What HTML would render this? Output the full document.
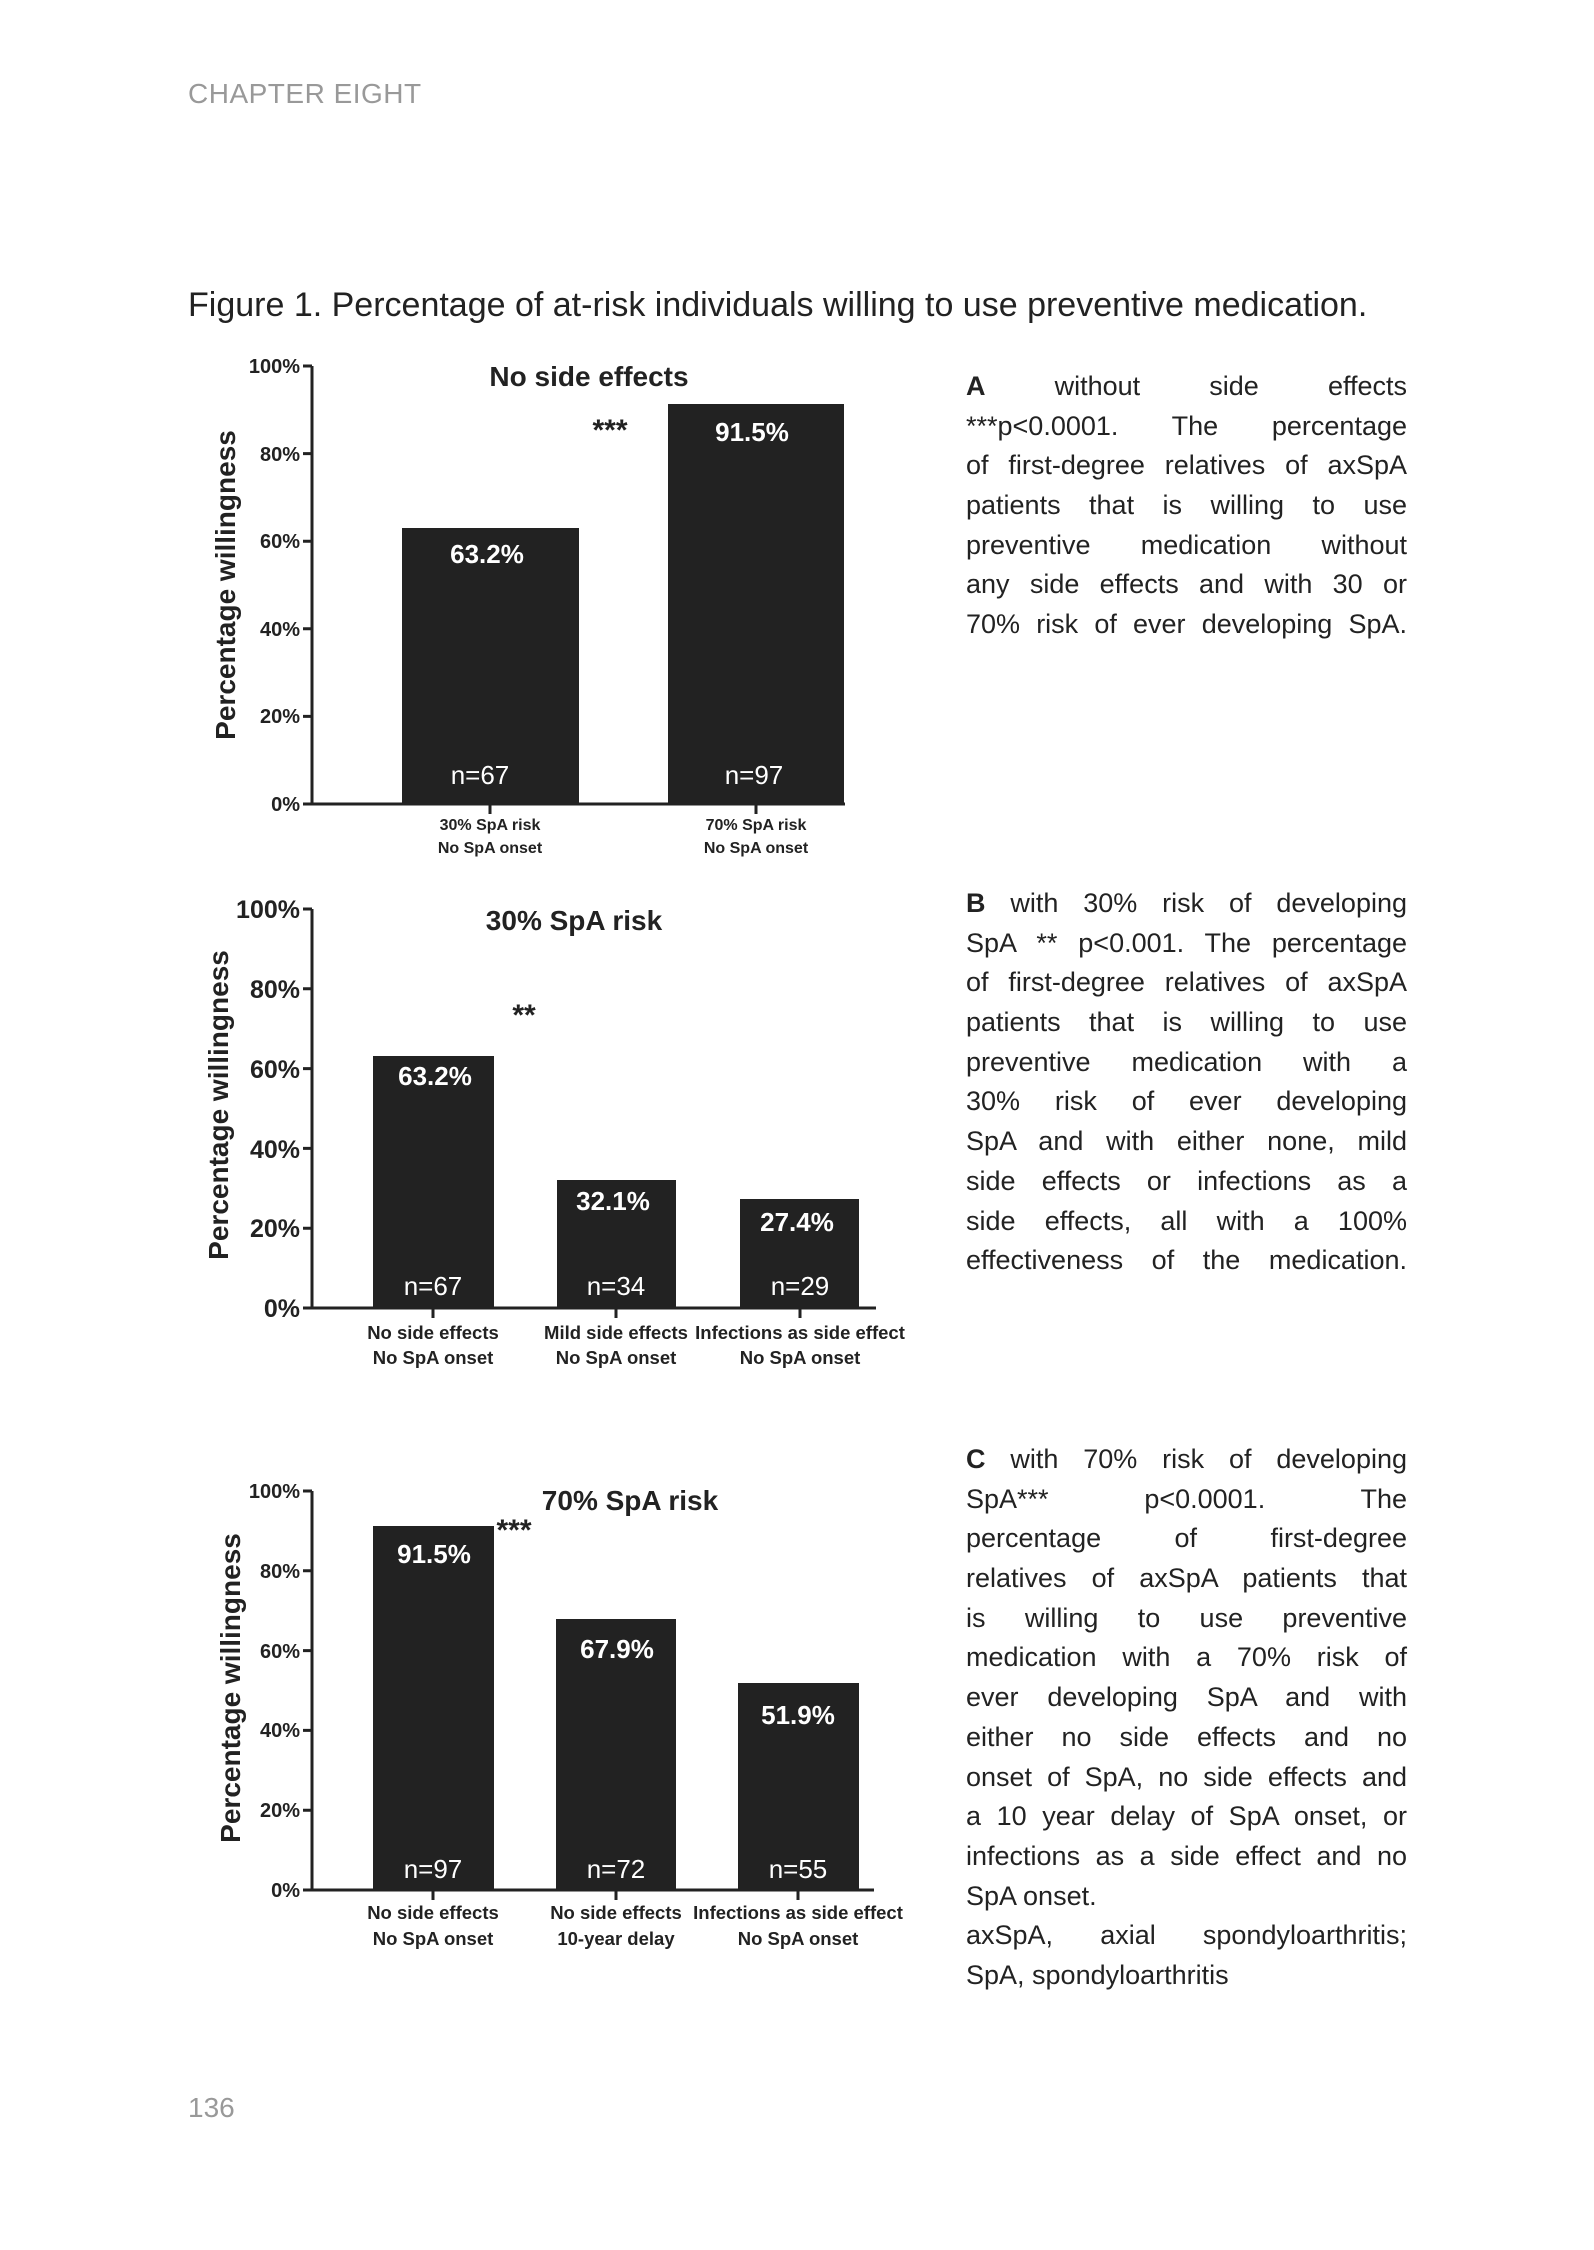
<!DOCTYPE html>
<html><head><meta charset="utf-8"><style>
body{margin:0;background:#fff;}
#p{position:relative;width:1594px;height:2250px;overflow:hidden;font-family:"Liberation Sans",sans-serif;}
.t{position:absolute;left:966px;width:441px;font-size:27px;color:#222;}
.t div{height:39.7px;line-height:39.7px;text-align:justify;text-align-last:justify;white-space:normal;}
.t div.l{text-align-last:left;}
svg{position:absolute;left:0;top:0;}
</style></head><body><div id="p">
<div style="position:absolute;left:188px;top:78px;font-size:28px;color:#999;letter-spacing:0.5px">CHAPTER EIGHT</div>
<div style="position:absolute;left:188px;top:286px;font-size:34px;color:#222;">Figure 1. Percentage of at-risk individuals willing to use preventive medication.</div>
<div style="position:absolute;left:188px;top:2092px;font-size:28px;color:#999;">136</div>

<div class="t" style="top:367px">
<div><b>A</b> without side effects</div>
<div>***p&lt;0.0001. The percentage</div>
<div>of first-degree relatives of axSpA</div>
<div>patients that is willing to use</div>
<div>preventive medication without</div>
<div>any side effects and with 30 or</div>
<div>70% risk of ever developing SpA.</div>
</div>
<div class="t" style="top:884px">
<div><b>B</b> with 30% risk of developing</div>
<div>SpA ** p&lt;0.001. The percentage</div>
<div>of first-degree relatives of axSpA</div>
<div>patients that is willing to use</div>
<div>preventive medication with a</div>
<div>30% risk of ever developing</div>
<div>SpA and with either none, mild</div>
<div>side effects or infections as a</div>
<div>side effects, all with a 100%</div>
<div>effectiveness of the medication.</div>
</div>
<div class="t" style="top:1440px">
<div><b>C</b> with 70% risk of developing</div>
<div>SpA*** p&lt;0.0001. The</div>
<div>percentage of first-degree</div>
<div>relatives of axSpA patients that</div>
<div>is willing to use preventive</div>
<div>medication with a 70% risk of</div>
<div>ever developing SpA and with</div>
<div>either no side effects and no</div>
<div>onset of SpA, no side effects and</div>
<div>a 10 year delay of SpA onset, or</div>
<div>infections as a side effect and no</div>
<div class="l">SpA onset.</div>
<div>axSpA, axial spondyloarthritis;</div>
<div class="l">SpA, spondyloarthritis</div>
</div>

<svg width="1594" height="2250" font-family="Liberation Sans, sans-serif">
<g stroke="#222" stroke-width="3" fill="none">
<path d="M312 366 V804 H845"/>
<path d="M303 366H312 M303 453.6H312 M303 541.2H312 M303 628.8H312 M303 716.4H312 M303 804H312 M490 804V814 M756 804V814"/>
<path d="M312 909 V1308 H876"/>
<path d="M303 909H312 M303 988.8H312 M303 1068.6H312 M303 1148.4H312 M303 1228.2H312 M303 1308H312 M433 1308V1318 M616 1308V1318 M800 1308V1318"/>
<path d="M312 1491 V1890 H874"/>
<path d="M303 1491H312 M303 1570.8H312 M303 1650.6H312 M303 1730.4H312 M303 1810.2H312 M303 1890H312 M433 1890V1900 M616 1890V1900 M798 1890V1900"/>
</g>
<g fill="#222">
<rect x="402" y="528" width="177" height="276"/>
<rect x="668" y="404" width="176" height="400"/>
<rect x="373" y="1056" width="121" height="252"/>
<rect x="557" y="1180" width="119" height="128"/>
<rect x="740" y="1199" width="119" height="109"/>
<rect x="373" y="1526" width="121" height="364"/>
<rect x="556" y="1619" width="120" height="271"/>
<rect x="738" y="1683" width="121" height="207"/>
</g>
<g font-weight="bold" fill="#222" text-anchor="end">
<g font-size="20"><text x="300" y="373">100%</text><text x="300" y="461">80%</text><text x="300" y="548">60%</text><text x="300" y="636">40%</text><text x="300" y="723">20%</text><text x="300" y="811">0%</text></g>
<g font-size="25"><text x="300" y="918">100%</text><text x="300" y="998">80%</text><text x="300" y="1078">60%</text><text x="300" y="1158">40%</text><text x="300" y="1237">20%</text><text x="300" y="1317">0%</text></g>
<g font-size="20"><text x="300" y="1498">100%</text><text x="300" y="1578">80%</text><text x="300" y="1658">60%</text><text x="300" y="1737">40%</text><text x="300" y="1817">20%</text><text x="300" y="1897">0%</text></g>
</g>
<g font-weight="bold" fill="#222" text-anchor="middle">
<text font-size="28" transform="translate(235,585) rotate(-90)">Percentage willingness</text>
<text font-size="28" transform="translate(228,1105) rotate(-90)">Percentage willingness</text>
<text font-size="28" transform="translate(240,1688) rotate(-90)">Percentage willingness</text>
<text font-size="28" x="589" y="386">No side effects</text>
<text font-size="28" x="574" y="930">30% SpA risk</text>
<text font-size="28" x="630" y="1510">70% SpA risk</text>
<text font-size="30" x="610" y="440">***</text>
<text font-size="30" x="524" y="1025">**</text>
<text font-size="30" x="514" y="1540">***</text>
<g font-size="16">
<text x="490" y="830">30% SpA risk</text><text x="490" y="853">No SpA onset</text>
<text x="756" y="830">70% SpA risk</text><text x="756" y="853">No SpA onset</text>
</g>
<g font-size="18.5">
<text x="433" y="1339">No side effects</text><text x="433" y="1364">No SpA onset</text>
<text x="616" y="1339">Mild side effects</text><text x="616" y="1364">No SpA onset</text>
<text x="800" y="1339">Infections as side effect</text><text x="800" y="1364">No SpA onset</text>
<text x="433" y="1919">No side effects</text><text x="433" y="1945">No SpA onset</text>
<text x="616" y="1919">No side effects</text><text x="616" y="1945">10-year delay</text>
<text x="798" y="1919">Infections as side effect</text><text x="798" y="1945">No SpA onset</text>
</g>
</g>
<g fill="#fff" text-anchor="middle" font-size="26">
<g font-weight="bold">
<text x="487" y="563">63.2%</text><text x="752" y="441">91.5%</text>
<text x="435" y="1085">63.2%</text><text x="613" y="1210">32.1%</text><text x="797" y="1231">27.4%</text>
<text x="434" y="1563">91.5%</text><text x="617" y="1658">67.9%</text><text x="798" y="1724">51.9%</text>
</g>
<text x="480" y="784">n=67</text><text x="754" y="784">n=97</text>
<text x="433" y="1295">n=67</text><text x="616" y="1295">n=34</text><text x="800" y="1295">n=29</text>
<text x="433" y="1878">n=97</text><text x="616" y="1878">n=72</text><text x="798" y="1878">n=55</text>
</g>
</svg>
</div></body></html>
